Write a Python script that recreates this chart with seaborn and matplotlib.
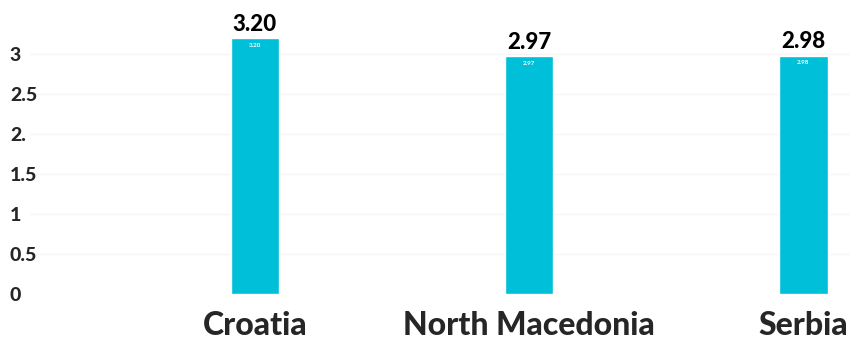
import pandas as pd
import matplotlib.pyplot as plt
import seaborn as sns

countries = ["Croatia", "North Macedonia", "Serbia"]
values = [3.20, 2.97, 2.98]
value_labels = ["3.20", "2.97", "2.98"]
y_ticks = [0, 0.5, 1, 1.5, 2, 2.5, 3]
y_tick_labels = ["0", "0.5", "1", "1.5", "2.", "2.5", "3"]

bar_color = "#00BFD8"

sns.set_style("white")
plt.rcParams["font.family"] = ["Lato", "DejaVu Sans"]

df = pd.DataFrame({"country": countries, "value": values})

fig = plt.figure(figsize=(8.56, 3.43), dpi=100)
ax = fig.add_axes([0.035, 0.143, 0.958, 0.793])
sns.barplot(data=df, x="country", y="value", color=bar_color, width=0.176,
            saturation=1, ax=ax)

ax.set_ylim(0, 3.4)
ax.set_xlim(-0.82, 2.17)
ax.set_yticks(y_ticks)
ax.set_yticklabels(y_tick_labels, fontsize=14, fontweight="black")
for lbl in ax.get_yticklabels():
    lbl.set_horizontalalignment("left")
ax.tick_params(axis="y", length=0, pad=14.4)
ax.tick_params(axis="x", length=0, pad=12)
plt.setp(ax.get_xticklabels(), fontsize=23, fontweight="black")
ax.set_xlabel("")
ax.set_ylabel("")
ax.yaxis.grid(True, color="#f5f5f5", linewidth=1, zorder=0)
ax.set_axisbelow(True)
for spine in ax.spines.values():
    spine.set_visible(False)

# labels above bars and small ones inside
for i, (v, s) in enumerate(zip(values, value_labels)):
    ax.text(i, v + 0.04, s, ha="center", va="bottom", fontsize=16,
            fontweight="black", color="black")
    ax.text(i, v - 0.06, s, ha="center", va="top", fontsize=4.5,
            fontweight="bold", color="white")

plt.savefig("out.png", dpi=100)
